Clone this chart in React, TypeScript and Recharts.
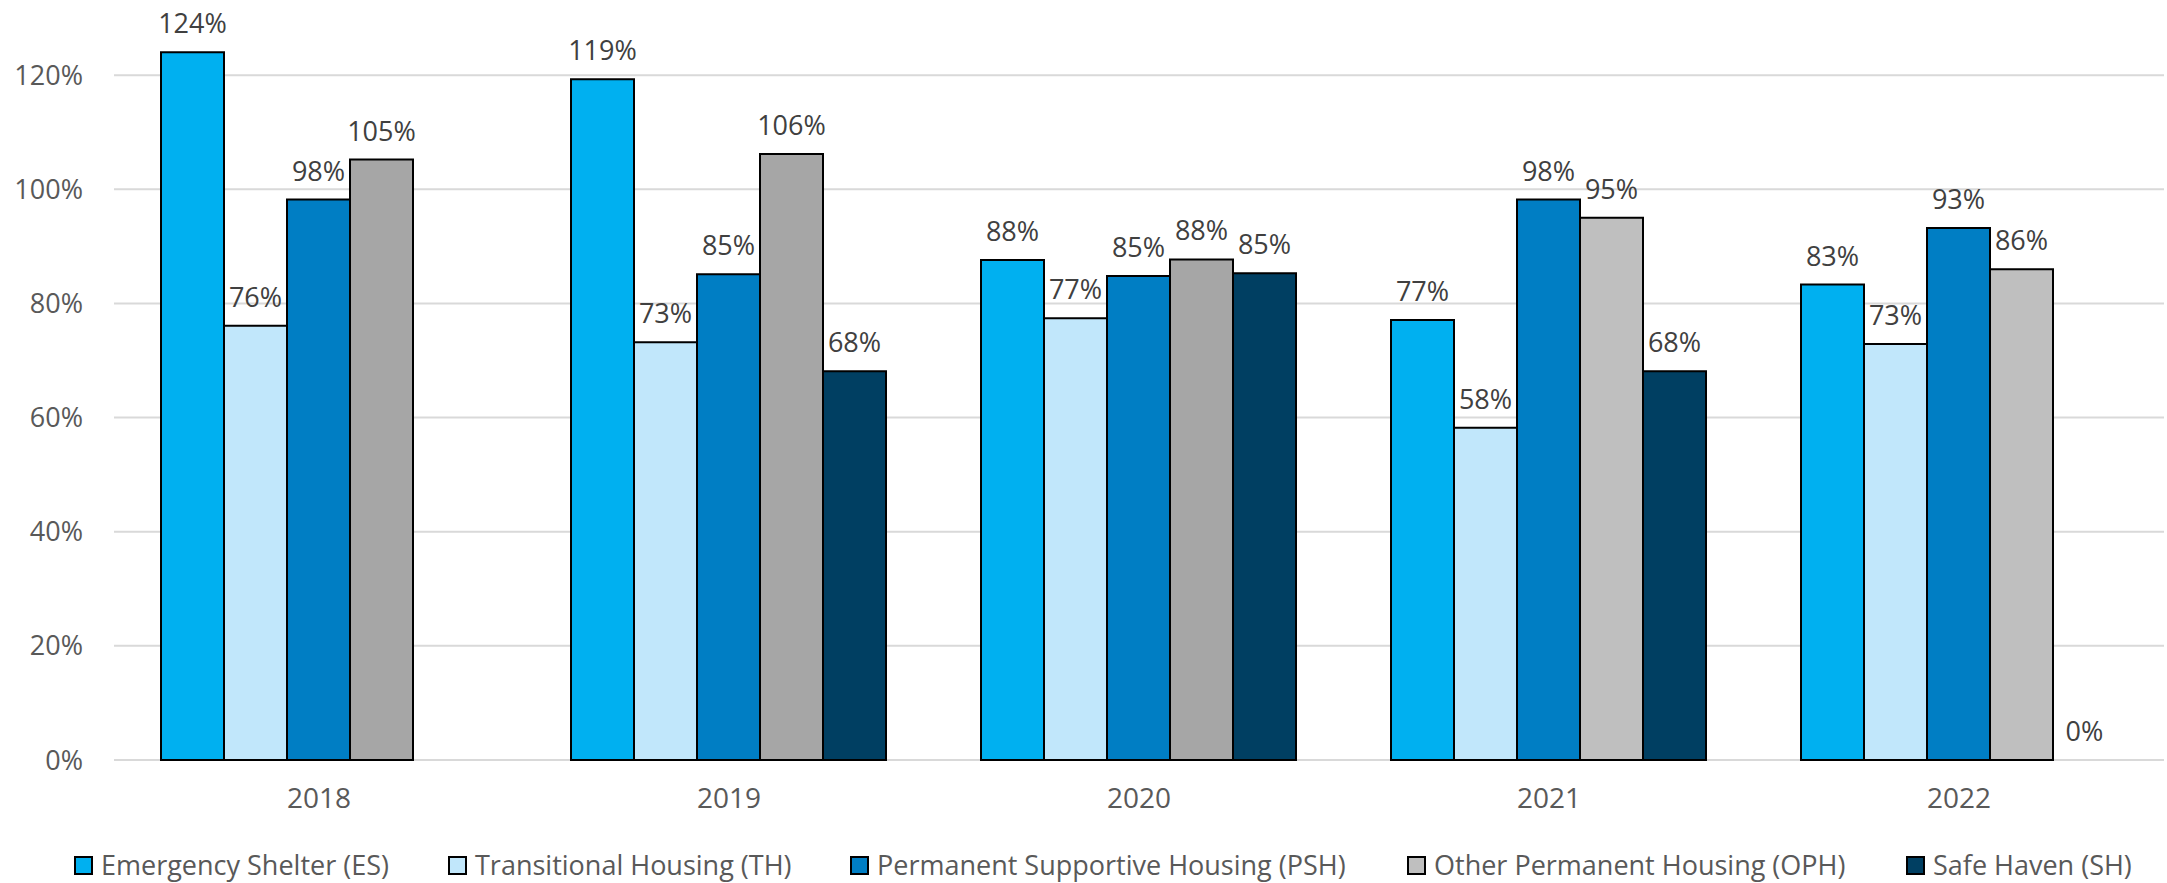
import React from 'react';
import { BarChart, Bar, XAxis, YAxis, CartesianGrid, LabelList, Legend, Cell } from 'recharts';

const years = ['2018', '2019', '2020', '2021', '2022'];
const es = [124, 119.3, 87.6, 77.1, 83.3];
const th = [76.1, 73.2, 77.4, 58.2, 72.9];
const psh = [98.2, 85.1, 84.8, 98.2, 93.2];
const oph = [105.2, 106.2, 87.7, 95.0, 86.0];
const sh = [null, 68.1, 85.3, 68.1, 0];
const yTicks = [0, 20, 40, 60, 80, 100, 120];
const yMax = 140;

// OPH bars switch shade after 2020
const ophFills = ['#A6A6A6', '#A6A6A6', '#A6A6A6', '#BFBFBF', '#BFBFBF'];

const series = [
  { key: 'es', name: 'Emergency Shelter (ES)', color: '#00B0F0' },
  { key: 'th', name: 'Transitional Housing (TH)', color: '#C1E7FB' },
  { key: 'psh', name: 'Permanent Supportive Housing (PSH)', color: '#007EC4' },
  { key: 'oph', name: 'Other Permanent Housing (OPH)', color: '#BFBFBF' },
  { key: 'sh', name: 'Safe Haven (SH)', color: '#003F62' },
];

const data = years.map((year, i) => ({
  year,
  es: es[i],
  th: th[i],
  psh: psh[i],
  oph: oph[i],
  sh: sh[i],
}));

const W = 2167;
const H = 883;
// plot top pushed above the picture so the 140% edge is off-screen
const M = { top: -39, right: 3, bottom: 0, left: 0 };
const X_AXIS_H = 91;
const LEGEND_H = 32;
const plotH = H - M.top - M.bottom - X_AXIS_H - LEGEND_H;
// gridlines only at the labelled ticks
const gridY = yTicks.map((t) => M.top + plotH * (1 - t / yMax));

const FONT = '"Open Sans", "Noto Sans", sans-serif';

const legendX = [74, 448, 850, 1407, 1906];

// custom label so a zero-height bar still gets its "0%"
const TopLabel = (props: any) => {
  const { value } = props;
  if (value === null || value === undefined) return null;
  const vb = props.viewBox || {};
  const x = Number(props.x ?? vb.x);
  const y = Number(props.y ?? vb.y);
  const w = Number(props.width ?? vb.width);
  return (
    <text x={x + w / 2} y={y - 19} textAnchor="middle" fill="#404040" fontSize={27} fontFamily={FONT}>
      {`${Math.round(Number(value))}%`}
    </text>
  );
};

const GridLine = (p: any) => {
  const y = Number(p.y1);
  if (!gridY.some((g) => Math.abs(g - y) < 1)) return <g key={p.key} />;
  return <line key={p.key} x1={p.x1} y1={p.y1} x2={p.x2} y2={p.y2} stroke="#D9D9D9" strokeWidth={2} />;
};

const LegendContent = () => (
  <div style={{ position: 'relative', height: LEGEND_H, fontFamily: FONT, fontSize: 27, color: '#595959' }}>
    {series.map((s, i) => (
      <div
        key={s.key}
        style={{ position: 'absolute', left: legendX[i], top: -1, height: 30, lineHeight: '30px', display: 'flex', alignItems: 'center', whiteSpace: 'nowrap' }}
      >
        <span
          style={{
            display: 'inline-block',
            width: 15,
            height: 15,
            background: s.color,
            border: '2px solid #000',
            marginRight: 8,
          }}
        />
        <span>{s.name}</span>
      </div>
    ))}
  </div>
);

export default function App() {
  return (
    <div style={{ position: 'absolute', left: 0, top: 0, width: W, height: H, background: '#fff', overflow: 'hidden' }}>
      <BarChart width={W} height={H} data={data} margin={M} barCategoryGap={47} barGap={0}>
        <CartesianGrid
          vertical={false}
          stroke="#D9D9D9"
          strokeWidth={2}
          horizontalPoints={gridY}
          horizontal={GridLine}
        />
        <XAxis
          dataKey="year"
          axisLine={false}
          tickLine={false}
          tickSize={0}
          tickMargin={28}
          height={X_AXIS_H}
          tick={{ fill: '#595959', fontSize: 28, fontFamily: FONT }}
        />
        <YAxis
          domain={[0, yMax]}
          ticks={yTicks}
          axisLine={false}
          tickLine={false}
          tickSize={0}
          tickMargin={31}
          width={114}
          tickFormatter={(v) => `${v}%`}
          tick={{ fill: '#595959', fontSize: 27, fontFamily: FONT }}
        />
        <Legend verticalAlign="bottom" height={LEGEND_H} content={<LegendContent />} />
        {series.map((s) => {
          const vals = s.key === 'sh' ? sh : null;
          return (
            <Bar
              key={s.key}
              dataKey={s.key}
              name={s.name}
              fill={s.color}
              stroke="#000"
              strokeWidth={2}
              minPointSize={(v: any) => (v === 0 ? 0.01 : 0)}
              isAnimationActive={false}
            >
              {s.key === 'oph' && ophFills.map((f, i) => <Cell key={`c-${i}`} fill={f} />)}
              {vals &&
                vals.map((v, i) => (
                  <Cell key={`s-${i}`} fill={s.color} stroke={v === 0 ? 'none' : '#000'} />
                ))}
              <LabelList dataKey={s.key} content={<TopLabel />} />
            </Bar>
          );
        })}
      </BarChart>
    </div>
  );
}
